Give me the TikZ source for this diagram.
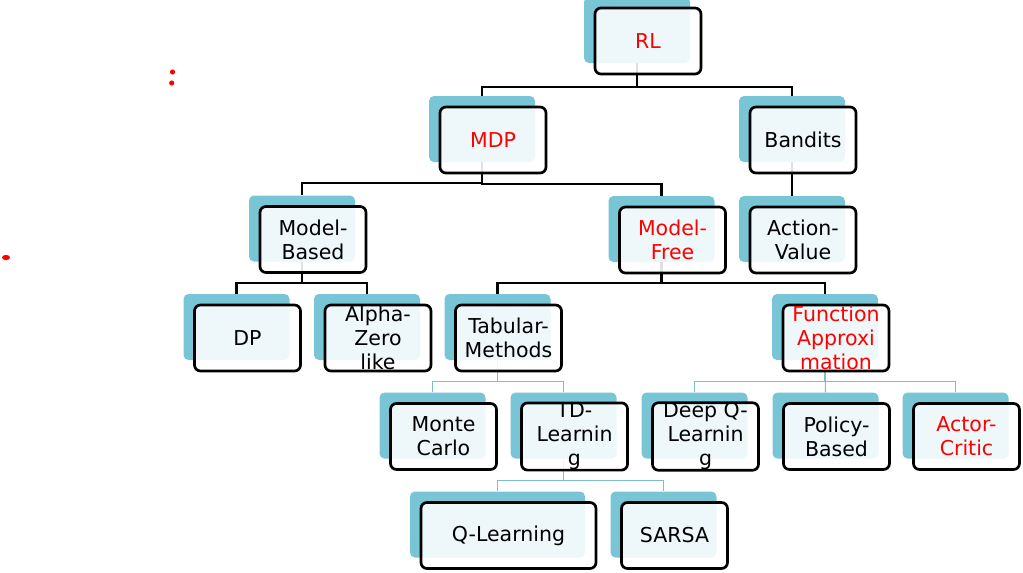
\documentclass[tikz,border=0pt]{standalone}
\usepackage{fontspec}
\setmainfont{DejaVu Sans}
\usetikzlibrary{shapes}

\definecolor{shadecol}{RGB}{120,197,214}
\definecolor{linecol}{RGB}{125,190,208}

\begin{document}
\begin{tikzpicture}[x=1pt,y=-1pt]
        \tikzstyle{every node}+=[inner sep=0pt]
        \tikzstyle{back}=[fill=shadecol, rounded corners=5pt, minimum width=106pt, minimum height=66pt]
        \tikzstyle{front}=[draw=black, line width=2.7pt, rounded corners=6pt, fill=white, fill opacity=0.88, text opacity=1, minimum width=106pt, minimum height=66pt, align=center, font=\fontsize{20.5}{24}\selectfont]
        \tikzstyle{hot}=[text=red]
        \tikzstyle{link}=[black, line width=2.2pt]
        \tikzstyle{sublink}=[linecol, line width=1.1pt]
        \useasboundingbox (0,0) rectangle (1023,573);
        \fill [red] (172.5,72) circle (2.6pt);
        \fill [red] (171.7,83) circle (2.6pt);
        \fill [red] (6,257.5) ellipse (4pt and 2.6pt);

        \node [back] (rlB) at (637,30) {};
        \node [back] (mdpB) at (482,129) {};
        \node [back] (banditsB) at (792,129) {};
        \node [back] (basedB) at (302,228.5) {};
        \node [back] (freeB) at (661.5,229) {};
        \node [back] (actvalB) at (792,229) {};
        \node [back] (dpB) at (236.5,327) {};
        \node [back] (alphaB) at (367,327) {};
        \node [back] (tabularB) at (497.5,327) {};
        \node [back] (funcB) at (825,327) {};
        \node [back] (mcB) at (432.5,425.5) {};
        \node [back] (tdB) at (563.5,425.5) {};
        \node [back] (dqnB) at (694.5,425.5) {};
        \node [back] (policyB) at (825.5,425.5) {};
        \node [back] (acB) at (955.5,425.5) {};
        \node [back, minimum width=175pt] (qlB) at (497.5,524.5) {};
        \node [back] (sarsaB) at (663.5,524.5) {};

        \draw [link] (rlB.south) |- ([yshift=9pt]mdpB.north) -- (mdpB.north);
        \draw [link] (rlB.south) |- ([yshift=9pt]banditsB.north) -- (banditsB.north);
        \draw [link] (banditsB.south) -- (actvalB.north);
        \draw [link] (mdpB.south) |- ([yshift=12pt]basedB.north) -- (basedB.north);
        \draw [link] (mdpB.south) |- ([yshift=12pt]freeB.north) -- (freeB.north);
        \draw [link] (basedB.south) |- ([yshift=11pt]dpB.north) -- (dpB.north);
        \draw [link] (basedB.south) |- ([yshift=11pt]alphaB.north) -- (alphaB.north);
        \draw [link] (freeB.south) |- ([yshift=11pt]tabularB.north) -- (tabularB.north);
        \draw [link] (freeB.south) |- ([yshift=11pt]funcB.north) -- (funcB.north);
        \draw [sublink] (tabularB.south) |- ([yshift=11pt]mcB.north) -- (mcB.north);
        \draw [sublink] (tabularB.south) |- ([yshift=11pt]tdB.north) -- (tdB.north);
        \draw [sublink] (funcB.south) |- ([yshift=11pt]dqnB.north) -- (dqnB.north);
        \draw [sublink] (funcB.south) -- (policyB.north);
        \draw [sublink] (funcB.south) |- ([yshift=11pt]acB.north) -- (acB.north);
        \draw [sublink] (tdB.south) |- ([yshift=11pt]qlB.north) -- (qlB.north);
        \draw [sublink] (tdB.south) |- ([yshift=11pt]sarsaB.north) -- (sarsaB.north);

        \node [front, hot] (rl) at (648,41) {RL};
        \node [front, hot] (mdp) at (493,140) {MDP};
        \node [front] (bandits) at (803,140) {Bandits};
        \node [front] (based) at (313,239.5) {Model-\\Based};
        \node [front, hot] (free) at (672.5,240) {Model-\\Free};
        \node [front] (actval) at (803,240) {Action-\\Value};
        \node [front] (dp) at (247.5,338) {DP};
        \node [front] (alpha) at (378,338) {Alpha-\\Zero\\like};
        \node [front] (tabular) at (508.5,338) {Tabular-\\Methods};
        \node [front, hot] (func) at (836,338) {Function\\Approxi\\mation};
        \node [front] (mc) at (443.5,436.5) {Monte\\Carlo};
        \node [front] (td) at (574.5,436.5) {TD-\\Learnin\\g};
        \node [front] (dqn) at (705.5,436.5) {Deep Q-\\Learnin\\g};
        \node [front] (policy) at (836.5,436.5) {Policy-\\Based};
        \node [front, hot] (ac) at (966.5,436.5) {Actor-\\Critic};
        \node [front, minimum width=175pt] (ql) at (508.5,535.5) {Q-Learning};
        \node [front] (sarsa) at (674.5,535.5) {SARSA};
\end{tikzpicture}
\end{document}
